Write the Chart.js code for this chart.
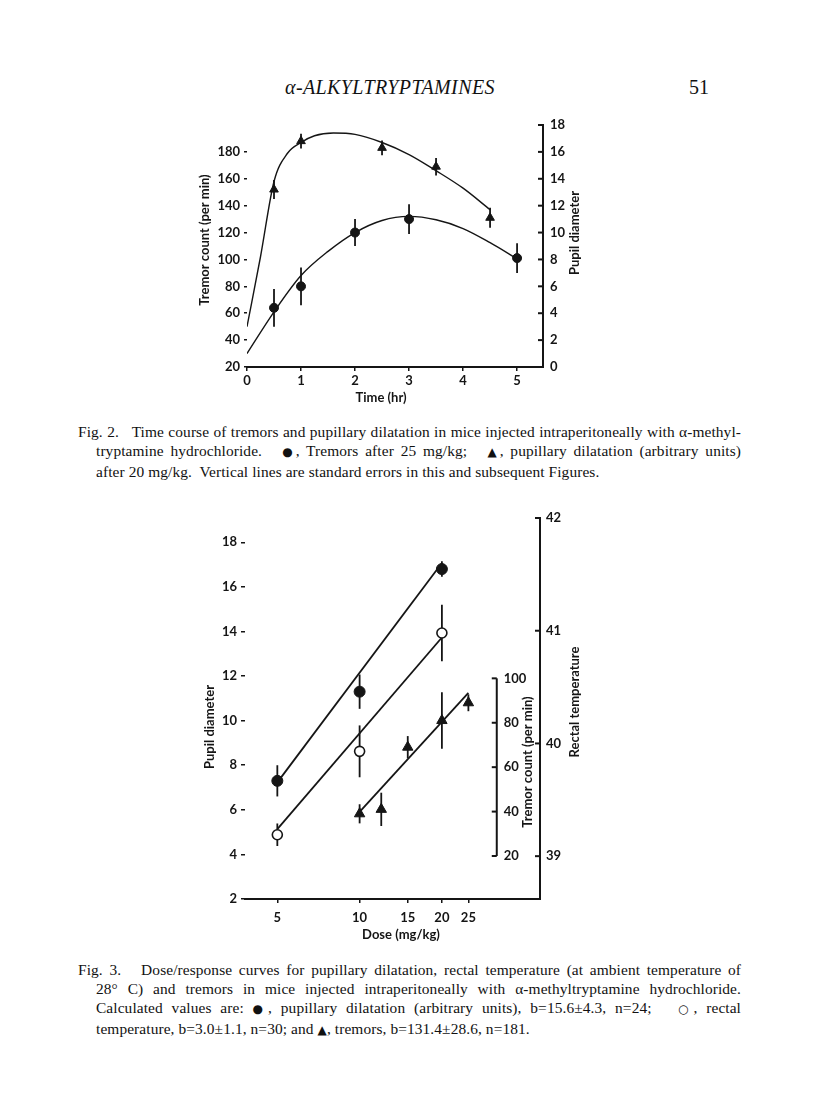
<!DOCTYPE html>
<html>
<head>
<meta charset="utf-8">
<script src="https://cdn.jsdelivr.net/npm/chart.js@4.4.0/dist/chart.umd.min.js"></script>
<style>
  body {
    margin: 0;
    width: 816px;
    height: 1116px;
    position: relative;
    overflow: hidden;
    background: #fff;
    color: #111;
    font-family: "Liberation Serif", "Times New Roman", serif;
  }
  .abs { position: absolute; }
  #header { left: 285px; top: 76px; font-size: 20px; letter-spacing: 0.4px; font-style: italic; }
  #pageno { left: 689px; top: 76px; font-size: 20px; }
  .caption { position: absolute; left: 78px; width: 663px; font-size: 15.4px; letter-spacing: 0.1px; line-height: 19px; }
  .caption div { white-space: nowrap; text-align: justify; text-align-last: justify; }
  .caption div.in { padding-left: 18px; }
  .caption div.last { text-align-last: left; }
  .sym { font-family: "DejaVu Sans", sans-serif; font-size: 12px; }
  #topWrap { left: 150px; top: 100px; width: 460px; height: 310px; }
  #bottomWrap { left: 150px; top: 490px; width: 460px; height: 460px; }
</style>
</head>
<body>
<div id="header" class="abs">α-ALKYLTRYPTAMINES</div>
<div id="pageno" class="abs">51</div>

<div class="abs" id="topWrap"><canvas id="timeChart" width="460" height="310"></canvas></div>

<div class="caption" style="top:422px">
  <div>Fig. 2.&nbsp;&nbsp; Time course of tremors and pupillary dilatation in mice injected intraperitoneally with α-methyl-</div>
  <div class="in">tryptamine hydrochloride.&nbsp;&nbsp; <span class="sym">●</span>, Tremors after 25 mg/kg;&nbsp;&nbsp; <span class="sym">▲</span>, pupillary dilatation (arbitrary units)</div>
  <div class="in last">after 20 mg/kg.&nbsp; Vertical lines are standard errors in this and subsequent Figures.</div>
</div>

<div class="abs" id="bottomWrap"><canvas id="doseChart" width="460" height="460"></canvas></div>

<div class="caption" style="top:960px">
  <div>Fig. 3.&nbsp;&nbsp; Dose/response curves for pupillary dilatation, rectal temperature (at ambient temperature of</div>
  <div class="in">28° C) and tremors in mice injected intraperitoneally with α-methyltryptamine hydrochloride.</div>
  <div class="in">Calculated values are: <span class="sym">●</span>, pupillary dilatation (arbitrary units), b=15.6±4.3, n=24;&nbsp;&nbsp; <span class="sym">○</span>, rectal</div>
  <div class="in last">temperature, b=3.0±1.1, n=30; and <span class="sym">▲</span>, tremors, b=131.4±28.6, n=181.</div>
</div>

<script>
// ---- Fig. 2 data (time course) ----
const TIME_TICKS = [0, 1, 2, 3, 4, 5];
const TREMOR_TICKS = [20, 40, 60, 80, 100, 120, 140, 160, 180];
const PUPIL_TICKS = [0, 2, 4, 6, 8, 10, 12, 14, 16, 18];

const TREMOR_TIME = [0.5, 1, 2, 3, 5];
const TREMOR_MEAN = [64, 80, 120, 130, 101];
const TREMOR_SE = [14, 14, 10, 11, 11];

const PUPIL_TIME = [0.5, 1, 2.5, 3.5, 4.5];
const PUPIL_MEAN = [13.2, 16.8, 16.3, 14.9, 11.1];
const PUPIL_SE = [0.7, 0.55, 0.55, 0.65, 0.75];

// fitted curves
const TREMOR_CURVE_T = [0, 0.5, 1, 1.5, 2, 2.5, 3, 3.5, 4, 4.5, 5];
const TREMOR_CURVE = [30, 61, 88, 106, 120, 129, 132, 129.5, 123, 112.5, 100.5];
const PUPIL_CURVE_T = [0, 0.25, 0.5, 0.75, 1, 1.25, 1.6, 2, 2.5, 3, 3.5, 4, 4.5];
const PUPIL_CURVE = [3.0, 8.2, 13.8, 15.9, 16.7, 17.2, 17.4, 17.3, 16.7, 15.8, 14.6, 13.3, 11.7];

// ---- Fig. 3 data (dose/response) ----
const DOSE_TICKS = [5, 10, 15, 20, 25];
const PUPIL3_TICKS = [2, 4, 6, 8, 10, 12, 14, 16, 18];
const TEMP_TICKS = [39, 40, 41, 42];
const TREMOR3_TICKS = [20, 40, 60, 80, 100];

const PUPIL_DOSE = [5, 10, 20];
const PUPIL3_MEAN = [7.3, 11.3, 16.8];
const PUPIL3_SE = [0.7, 0.77, 0.35];
const PUPIL3_FIT_DOSE = [5, 20];
const PUPIL3_FIT = [7.23, 17.07];

const TEMP_DOSE = [5, 10, 20];
const TEMP_MEAN = [39.19, 39.93, 40.98];
const TEMP_SE = [0.1, 0.23, 0.25];
const TEMP_FIT_DOSE = [5, 20];
const TEMP_FIT = [39.24, 40.94];

const TREMOR3_DOSE = [10, 12, 15, 20, 25];
const TREMOR3_MEAN = [39, 41, 69, 81, 89];
const TREMOR3_SE = [4.3, 7.5, 5, 12.7, 3.8];
const TREMOR3_FIT_DOSE = [10, 25];
const TREMOR3_FIT = [39.9, 93.5];

const INK = "#151515";
const chartFont = { family: "Lato, 'DejaVu Sans', sans-serif", size: 13, weight: "bold" };

function pts(xs, ys) {
  return xs.map((x, i) => ({ x: x, y: ys[i] }));
}

function fixedTicks(values) {
  return (scale) => {
    scale.ticks = values.map((v) => ({ value: v }));
  };
}

// error bars, partial axes, inward ticks and rotated titles
const paperAxes = {
  id: "paperAxes",
  beforeDatasetsDraw(chart) {
    const { ctx } = chart;
    chart.data.datasets.forEach((ds, i) => {
      if (!ds.se) return;
      const meta = chart.getDatasetMeta(i);
      const xs = chart.scales[meta.xAxisID];
      const ys = chart.scales[meta.yAxisID];
      ctx.save();
      ctx.strokeStyle = INK;
      ctx.lineWidth = 1.8;
      ds.data.forEach((p, j) => {
        const x = xs.getPixelForValue(p.x);
        ctx.beginPath();
        ctx.moveTo(x, ys.getPixelForValue(p.y - ds.se[j]));
        ctx.lineTo(x, ys.getPixelForValue(p.y + ds.se[j]));
        ctx.stroke();
      });
      ctx.restore();
    });
  },
  afterDraw(chart, args, opts) {
    const { ctx, chartArea } = chart;
    ctx.save();
    ctx.strokeStyle = INK;
    ctx.fillStyle = INK;
    ctx.lineWidth = 2;

    (opts.partial || []).forEach((a) => {
      const s = chart.scales[a.id];
      const x = a.at !== undefined ? chart.scales.x.getPixelForValue(a.at) : chartArea.left;
      ctx.beginPath();
      ctx.moveTo(x, s.getPixelForValue(a.from));
      ctx.lineTo(x, s.getPixelForValue(a.to));
      ctx.stroke();
      if (a.labels) {
        ctx.font = `${chartFont.weight} ${chartFont.size}px ${chartFont.family}`;
        ctx.textAlign = "left";
        ctx.textBaseline = "middle";
        a.labels.forEach((v) => {
          const y = s.getPixelForValue(v);
          ctx.beginPath();
          ctx.moveTo(x - 5, y);
          ctx.lineTo(x, y);
          ctx.stroke();
          ctx.fillText(String(v), x + 7, y);
        });
      }
    });

    (opts.inward || []).forEach((id) => {
      const s = chart.scales[id];
      s.ticks.forEach((t) => {
        const y = s.getPixelForValue(t.value);
        ctx.beginPath();
        ctx.moveTo(chartArea.right - 5, y);
        ctx.lineTo(chartArea.right, y);
        ctx.stroke();
      });
    });

    ctx.font = `${chartFont.weight} ${chartFont.size}px ${chartFont.family}`;
    ctx.textAlign = "center";
    ctx.textBaseline = "middle";
    (opts.titles || []).forEach((t) => {
      ctx.save();
      ctx.translate(t.x, t.y);
      if (t.vertical) ctx.rotate(-Math.PI / 2);
      ctx.fillText(t.text, 0, 0);
      ctx.restore();
    });
    ctx.restore();
  },
};

const tickStyle = { color: INK, font: chartFont };

// ---------------- Fig. 2 ----------------
new Chart(document.getElementById("timeChart"), {
  type: "scatter",
  data: {
    datasets: [
      {
        data: pts(TREMOR_TIME, TREMOR_MEAN),
        se: TREMOR_SE,
        yAxisID: "yT",
        pointStyle: "circle",
        pointRadius: 4.5,
        pointBackgroundColor: INK,
        pointBorderColor: INK,
      },
      {
        data: pts(PUPIL_TIME, PUPIL_MEAN),
        se: PUPIL_SE,
        yAxisID: "yP",
        pointStyle: "triangle",
        pointRadius: 5,
        pointBackgroundColor: INK,
        pointBorderColor: INK,
      },
      {
        data: pts(TREMOR_CURVE_T, TREMOR_CURVE),
        yAxisID: "yT",
        showLine: true,
        pointRadius: 0,
        borderColor: INK,
        borderWidth: 1.4,
        cubicInterpolationMode: "monotone",
      },
      {
        data: pts(PUPIL_CURVE_T, PUPIL_CURVE),
        yAxisID: "yP",
        showLine: true,
        pointRadius: 0,
        borderColor: INK,
        borderWidth: 1.4,
        cubicInterpolationMode: "monotone",
      },
    ],
  },
  plugins: [paperAxes],
  options: {
    responsive: false,
    animation: false,
    devicePixelRatio: 1,
    layout: { padding: { top: 25, left: 0, right: 0, bottom: 0 } },
    scales: {
      x: {
        type: "linear",
        min: 0,
        max: 5.48,
        afterBuildTicks: fixedTicks(TIME_TICKS),
        afterFit: (s) => { s.height = 43; },
        border: { display: true, color: INK, width: 2 },
        grid: { drawOnChartArea: false, drawTicks: true, tickLength: 4, color: INK, lineWidth: 1.5 },
        ticks: { ...tickStyle, padding: 2, maxRotation: 0 },
      },
      yT: {
        position: "left",
        min: 20,
        max: 200,
        afterBuildTicks: fixedTicks(TREMOR_TICKS),
        afterFit: (s) => { s.width = 97; },
        border: { display: false },
        grid: { drawOnChartArea: false, drawTicks: true, tickLength: 3, color: INK, lineWidth: 1.5 },
        ticks: { ...tickStyle, padding: 4 },
      },
      yP: {
        position: "right",
        min: 0,
        max: 18,
        afterBuildTicks: fixedTicks(PUPIL_TICKS),
        afterFit: (s) => { s.width = 67; },
        border: { display: true, color: INK, width: 2 },
        grid: { drawOnChartArea: false, drawTicks: false },
        ticks: { ...tickStyle, padding: 7 },
      },
    },
    plugins: {
      legend: { display: false },
      tooltip: { enabled: false },
      paperAxes: {
        partial: [{ id: "yT", from: 20, to: 180 }],
        inward: ["yP"],
        titles: [
          { text: "Tremor count (per min)", x: 55, y: 140, vertical: true },
          { text: "Pupil diameter", x: 425, y: 133, vertical: true },
          { text: "Time (hr)", x: 231, y: 298 },
        ],
      },
    },
  },
});

// ---------------- Fig. 3 ----------------
new Chart(document.getElementById("doseChart"), {
  type: "scatter",
  data: {
    datasets: [
      {
        data: pts(PUPIL_DOSE, PUPIL3_MEAN),
        se: PUPIL3_SE,
        yAxisID: "yP",
        pointStyle: "circle",
        pointRadius: 5.5,
        pointBackgroundColor: INK,
        pointBorderColor: INK,
      },
      {
        data: pts(TEMP_DOSE, TEMP_MEAN),
        se: TEMP_SE,
        yAxisID: "yR",
        pointStyle: "circle",
        pointRadius: 5,
        pointBackgroundColor: "#fff",
        pointBorderColor: INK,
        pointBorderWidth: 1.6,
      },
      {
        data: pts(TREMOR3_DOSE, TREMOR3_MEAN),
        se: TREMOR3_SE,
        yAxisID: "yC",
        pointStyle: "triangle",
        pointRadius: 6,
        pointBackgroundColor: INK,
        pointBorderColor: INK,
      },
      {
        data: pts(PUPIL3_FIT_DOSE, PUPIL3_FIT),
        yAxisID: "yP",
        showLine: true,
        pointRadius: 0,
        borderColor: INK,
        borderWidth: 1.8,
      },
      {
        data: pts(TEMP_FIT_DOSE, TEMP_FIT),
        yAxisID: "yR",
        showLine: true,
        pointRadius: 0,
        borderColor: INK,
        borderWidth: 1.8,
      },
      {
        data: pts(TREMOR3_FIT_DOSE, TREMOR3_FIT),
        yAxisID: "yC",
        showLine: true,
        pointRadius: 0,
        borderColor: INK,
        borderWidth: 1.8,
      },
    ],
  },
  plugins: [paperAxes],
  options: {
    responsive: false,
    animation: false,
    devicePixelRatio: 1,
    layout: { padding: { top: 28, left: 0, right: 0, bottom: 0 } },
    scales: {
      x: {
        type: "logarithmic",
        min: 3.808,
        max: 45.7,
        afterBuildTicks: fixedTicks(DOSE_TICKS),
        afterFit: (s) => { s.height = 51; },
        border: { display: true, color: INK, width: 2 },
        grid: { drawOnChartArea: false, drawTicks: true, tickLength: 4, color: INK, lineWidth: 1.5 },
        ticks: { ...tickStyle, padding: 7, maxRotation: 0, autoSkip: false, callback: (v) => String(v) },
      },
      yP: {
        position: "left",
        min: 2,
        max: 19.09,
        afterBuildTicks: fixedTicks(PUPIL3_TICKS),
        afterFit: (s) => { s.width = 95; },
        border: { display: false },
        grid: { drawOnChartArea: false, drawTicks: true, tickLength: 4, color: INK, lineWidth: 1.5 },
        ticks: { ...tickStyle, padding: 4 },
      },
      yR: {
        position: "right",
        min: 38.62,
        max: 42,
        afterBuildTicks: fixedTicks(TEMP_TICKS),
        afterFit: (s) => { s.width = 70; },
        border: { display: true, color: INK, width: 2 },
        grid: { drawOnChartArea: false, drawTicks: false },
        ticks: { ...tickStyle, padding: 6 },
      },
      yC: {
        display: false,
        min: 0.64,
        max: 172.2,
      },
    },
    plugins: {
      legend: { display: false },
      tooltip: { enabled: false },
      paperAxes: {
        partial: [
          { id: "yP", from: 2, to: 18 },
          { id: "yC", from: 20, to: 100, at: 31.75, labels: TREMOR3_TICKS },
        ],
        inward: ["yR"],
        titles: [
          { text: "Pupil diameter", x: 60, y: 237, vertical: true },
          { text: "Tremor count (per min)", x: 378, y: 272, vertical: true },
          { text: "Rectal temperature", x: 425, y: 212, vertical: true },
          { text: "Dose (mg/kg)", x: 251, y: 445 },
        ],
      },
    },
  },
});
</script>
</body>
</html>
